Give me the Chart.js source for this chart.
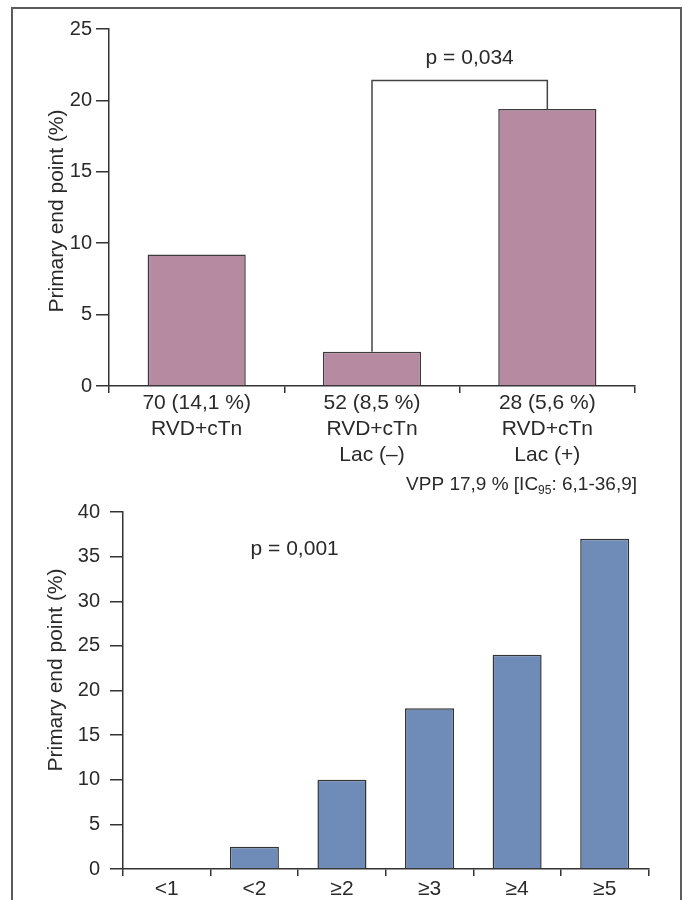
<!DOCTYPE html>
<html>
<head>
<meta charset="utf-8">
<script src="https://cdn.jsdelivr.net/npm/chart.js@4/dist/chart.umd.min.js"></script>
<style>
  html,body{margin:0;padding:0;background:#fff;}
  #wrap{position:relative;width:683px;height:900px;overflow:hidden;}
  #frame{position:absolute;left:11px;top:7px;width:671px;height:1000px;box-sizing:border-box;
         border:2px solid #5c5c5c;border-bottom:none;}
  canvas{position:absolute;left:0;}
  #c1{top:0;}
  #c2{top:500px;}
</style>
</head>
<body>
<div id="wrap">
  <div id="frame"></div>
  <canvas id="c1" width="683" height="500"></canvas>
  <canvas id="c2" width="683" height="400"></canvas>
</div>
<script>
/* ── DATA ── */
const topLabels = [['70 (14,1 %)','RVD+cTn'], ['52 (8,5 %)','RVD+cTn','Lac (–)'], ['28 (5,6 %)','RVD+cTn','Lac (+)']];
const topValues = [9.2, 2.4, 19.4];
const topTicks  = [0, 5, 10, 15, 20, 25];
const bracketFrom = 1, bracketTo = 2, bracketLevel = 21.4;
const topPText  = 'p = 0,034';

const botLabels = ['<1','<2','≥2','≥3','≥4','≥5'];
const botValues = [0, 2.5, 10, 18, 24, 37];
const botTicks  = [0, 5, 10, 15, 20, 25, 30, 35, 40];
const botPText  = 'p = 0,001';

const yTitle = 'Primary end point (%)';

const FONT = '"Liberation Sans", Arial, Helvetica, sans-serif';
const INK  = '#2a2a2a';
const AXIS = '#333';
Chart.defaults.font.family = FONT;
Chart.defaults.color = INK;

// fixed axis boxes so the plot areas land where the original sits
const fixY = w => s => { s.width = w; s.paddingTop = s.paddingBottom = s.paddingLeft = s.paddingRight = 0; };
const fixX = h => s => { s.height = h; s.paddingTop = s.paddingBottom = s.paddingLeft = s.paddingRight = 0; };

function yTitleAt(ctx, x, y) {
  ctx.save();
  ctx.translate(x, y);
  ctx.rotate(-Math.PI/2);
  ctx.font = '21px ' + FONT;
  ctx.fillStyle = INK;
  ctx.textAlign = 'center';
  ctx.textBaseline = 'middle';
  ctx.fillText(yTitle, 0, 0);
  ctx.restore();
}

function scalesFor(ticks, max, yW, xH, tickPad, xPad) {
  return {
    x: {
      offset: true,
      grid: { offset: true, drawOnChartArea: false, tickLength: 7, color: AXIS, lineWidth: 1.5 },
      border: { display: true, color: AXIS, width: 1.5 },
      ticks: { font: { size: 21, lineHeight: 1.25 }, color: INK, padding: xPad, maxRotation: 0, autoSkip: false },
      afterFit: fixX(xH)
    },
    y: {
      min: 0, max: max,
      afterBuildTicks: s => { s.ticks = ticks.map(v => ({ value: v })); },
      grid: { drawOnChartArea: false, tickLength: 13, color: AXIS, lineWidth: 1.5 },
      border: { display: true, color: AXIS, width: 1.5 },
      ticks: { font: { size: 20 }, color: INK, padding: tickPad },
      afterFit: fixY(yW)
    }
  };
}

/* ── TOP CHART ── */
const topDeco = {
  id: 'topDeco',
  afterDraw(chart) {
    const { ctx, scales: { x, y } } = chart;
    yTitleAt(ctx, 57, 211);
    // significance bracket between bars
    const x1 = x.getPixelForValue(bracketFrom), x2 = x.getPixelForValue(bracketTo);
    const yl = y.getPixelForValue(bracketLevel);
    ctx.save();
    ctx.strokeStyle = '#444';
    ctx.lineWidth = 1.5;
    ctx.beginPath();
    ctx.moveTo(x1, y.getPixelForValue(topValues[bracketFrom]));
    ctx.lineTo(x1, yl);
    ctx.lineTo(x2, yl);
    ctx.lineTo(x2, y.getPixelForValue(topValues[bracketTo]));
    ctx.stroke();
    ctx.font = '21px ' + FONT;
    ctx.fillStyle = INK;
    ctx.textAlign = 'center';
    ctx.textBaseline = 'middle';
    ctx.fillText(topPText, (x1 + x2) / 2 + 10, yl - 22);
    // VPP 17,9 % [IC95: 6,1-36,9]
    const yy = 483, right = chart.chartArea.right + 2;
    ctx.textAlign = 'left';
    ctx.textBaseline = 'alphabetic';
    const base = yy + 7;
    const a = 'VPP 17,9 % [IC', sub = '95', b = ': 6,1-36,9]';
    ctx.font = '19px ' + FONT;  const wa = ctx.measureText(a).width, wb = ctx.measureText(b).width;
    ctx.font = '12px ' + FONT;  const ws = ctx.measureText(sub).width;
    let xx = right - wa - ws - wb;
    ctx.font = '19px ' + FONT; ctx.fillText(a, xx, base); xx += wa;
    ctx.font = '12px ' + FONT; ctx.fillText(sub, xx, base + 4); xx += ws;
    ctx.font = '19px ' + FONT; ctx.fillText(b, xx, base);
    ctx.restore();
  }
};

new Chart(document.getElementById('c1'), {
  type: 'bar',
  data: {
    labels: topLabels,
    datasets: [{
      data: topValues,
      backgroundColor: '#b68aa1',
      borderColor: '#3c3c3c',
      borderWidth: 1.5,
      borderSkipped: 'bottom',
      barPercentage: 0.56,
      categoryPercentage: 1
    }]
  },
  options: {
    responsive: false,
    animation: false,
    layout: { padding: { left: 0, right: 48, top: 29, bottom: 0 } },
    plugins: { legend: { display: false }, tooltip: { enabled: false } },
    scales: scalesFor(topTicks, 25, 109, 114, 4, -3)
  },
  plugins: [topDeco]
});

/* ── BOTTOM CHART ── */
const botDeco = {
  id: 'botDeco',
  afterDraw(chart) {
    const { ctx, scales: { x, y } } = chart;
    yTitleAt(ctx, 56, 170);
    ctx.save();
    ctx.font = '21px ' + FONT;
    ctx.fillStyle = INK;
    ctx.textAlign = 'center';
    ctx.textBaseline = 'middle';
    ctx.fillText(botPText, x.getPixelForValue(1.46), y.getPixelForValue(35.8));
    ctx.restore();
  }
};

new Chart(document.getElementById('c2'), {
  type: 'bar',
  data: {
    labels: botLabels,
    datasets: [{
      data: botValues,
      backgroundColor: '#6f8cb8',
      borderColor: '#333',
      borderWidth: 1.5,
      borderSkipped: 'bottom',
      minBarLength: 1,
      barPercentage: 0.56,
      categoryPercentage: 1
    }]
  },
  options: {
    responsive: false,
    animation: false,
    layout: { padding: { left: 0, right: 34.5, top: 12, bottom: 0 } },
    plugins: { legend: { display: false }, tooltip: { enabled: false } },
    scales: scalesFor(botTicks, 40, 123, 31, 10, 0)
  },
  plugins: [botDeco]
});
</script>
</body>
</html>
